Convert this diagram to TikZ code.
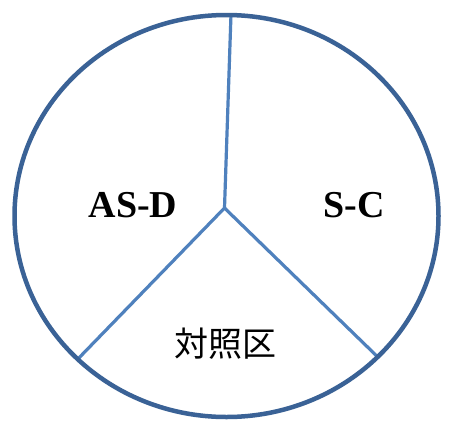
\documentclass[tikz,border=0pt]{standalone}
\usepackage{fontspec}
\setmainfont{Liberation Serif}
\newfontfamily\jpfont{Noto Sans CJK JP}
\definecolor{rimblue}{HTML}{3A6296}
\definecolor{spokeblue}{HTML}{4F81BD}
\begin{document}
\begin{tikzpicture}[x=1pt,y=-1pt,
  rim/.style={draw=rimblue,line width=4.5pt},
  spoke/.style={draw=spokeblue,line width=3.2pt},
  lab/.style={font=\fontsize{38}{42}\selectfont\bfseries,inner sep=0pt},
  jlab/.style={font=\fontsize{34}{38}\selectfont\jpfont,inner sep=0pt}]
\useasboundingbox (0,0) rectangle (449,421);
\fill[white] (0,0) rectangle (449,421);
\coordinate (o) at (226.5,216);
\coordinate (c) at (224.5,208);
\coordinate (t) at (231,14);
\coordinate (l) at (74,363);
\coordinate (r) at (385,364);
\begin{scope}
\clip (o) ellipse [x radius=212pt, y radius=201pt];
\draw[spoke] (c) -- (t);
\draw[spoke] (c) -- (l);
\draw[spoke] (c) -- (r);
\end{scope}
\draw[rim] (o) ellipse [x radius=212pt, y radius=201pt];
\node[lab] (asd) at (133,205) {AS-D};
\node[lab] (sc) at (354,205) {S-C};
\node[jlab] (ctl) at (225,344) {対照区};
\end{tikzpicture}
\end{document}
